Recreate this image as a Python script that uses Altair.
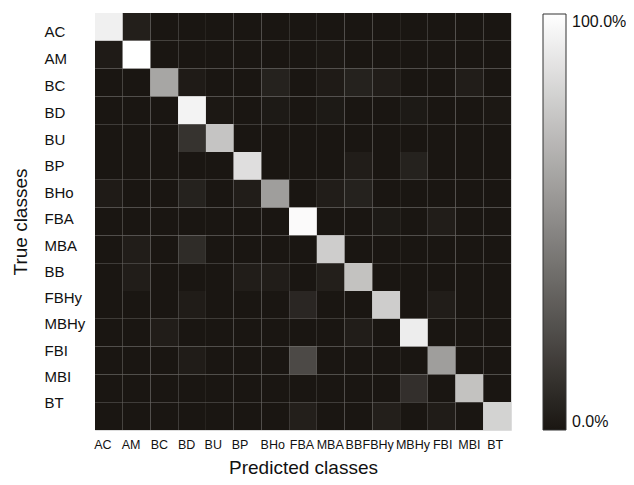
import altair as alt
import pandas as pd

classes = ["AC", "AM", "BC", "BD", "BU", "BP", "BHo", "FBA", "MBA", "BB",
           "FBHy", "MBHy", "FBI", "MBI", "BT"]

# rows = true class, columns = predicted class (fraction of row)
matrix = [
    [0.95, 0.08, 0, 0, 0, 0, 0, 0, 0, 0, 0, 0, 0, 0, 0],
    [0.05, 1.00, 0, 0, 0, 0, 0, 0, 0.03, 0, 0, 0, 0, 0, 0],
    [0, 0, 0.69, 0.05, 0, 0, 0.10, 0, 0.05, 0.10, 0.07, 0, 0, 0.07, 0],
    [0, 0, 0, 0.96, 0.03, 0, 0.04, 0, 0.04, 0, 0, 0.04, 0, 0, 0.03],
    [0, 0, 0, 0.20, 0.80, 0, 0, 0, 0, 0, 0, 0, 0, 0, 0],
    [0, 0, 0, 0, 0, 0.89, 0, 0, 0, 0.07, 0, 0.10, 0, 0, 0],
    [0.05, 0, 0, 0.10, 0, 0.07, 0.66, 0, 0.07, 0.10, 0, 0, 0, 0, 0],
    [0, 0, 0, 0, 0, 0, 0, 0.985, 0, 0, 0.04, 0, 0.07, 0, 0],
    [0, 0.07, 0, 0.16, 0, 0, 0, 0, 0.83, 0, 0, 0, 0, 0, 0],
    [0, 0.07, 0, 0, 0, 0.07, 0.07, 0, 0.08, 0.79, 0, 0, 0, 0, 0],
    [0, 0, 0, 0.06, 0, 0, 0, 0.13, 0, 0, 0.83, 0, 0.07, 0, 0],
    [0, 0, 0.07, 0, 0, 0, 0, 0, 0, 0.07, 0, 0.94, 0, 0, 0],
    [0, 0, 0, 0.06, 0, 0, 0, 0.31, 0, 0, 0, 0, 0.66, 0, 0],
    [0, 0, 0, 0, 0, 0, 0, 0, 0, 0, 0, 0.18, 0, 0.79, 0],
    [0, 0, 0, 0, 0, 0, 0, 0.08, 0, 0, 0.08, 0, 0.06, 0, 0.85],
]

records = []
for i, t in enumerate(classes):
    for j, p in enumerate(classes):
        records.append({"true": t, "pred": p, "value": matrix[i][j]})
df = pd.DataFrame(records)

# label nudges (pixels) to mimic the hand-placed tick labels of the original
x_nudge = [-6, -5.5, -5, -5.5, -6.5, -7.5, -2.5, -1, -0.5, -4.5, -8, -1, 1, 0, -2]
y_nudge = [5, 4, 3.4, 2.6, 1.8, 0, -0.8, -2.6, -3.4, -5.2, -7, -8.8, -9.6, -11.4, -13]


def cond_offset(nudges):
    return {
        "condition": [
            {"test": f"datum.value === '{c}'", "value": n}
            for c, n in zip(classes, nudges)
        ],
        "value": 0,
    }


chart = alt.Chart(df).mark_rect().encode(
    x=alt.X("pred:N", sort=classes, title="Predicted classes",
            axis=alt.Axis(labelAngle=0, labelFont="Liberation Sans", grid=False,
                          labelFontSize=12.5, labelPadding=8, ticks=False, tickSize=0,
                          domain=False, labelOverlap=False, labelColor="#111",
                          labelOffset=cond_offset(x_nudge),
                          titleFont="Liberation Sans", titleFontSize=19,
                          titleFontWeight="normal", titleColor="#111", titlePadding=8)),
    y=alt.Y("true:N", sort=classes, title="True classes",
            axis=alt.Axis(labelAlign="left", labelPadding=51, ticks=False, tickSize=0,
                          domain=False, labelOverlap=False, labelColor="#111", grid=False,
                          labelFont="Liberation Sans", labelFontSize=15,
                          labelOffset=cond_offset(y_nudge),
                          titleFont="Liberation Sans", titleFontSize=19,
                          titleFontWeight="normal", titleColor="#111", titlePadding=14)),
    color=alt.Color("value:Q",
                    scale=alt.Scale(type="pow", exponent=1.3, domain=[0, 1],
                                    range=["#1a1612", "#ffffff"], interpolate="rgb"),
                    legend=alt.Legend(orient="none", legendX=448, legendY=1,
                                      direction="vertical", gradientLength=416,
                                      gradientThickness=23, format=".1%", values=[0, 1],
                                      title=None, labelFont="Liberation Sans",
                                      labelFontSize=16, labelColor="#111", labelOffset=6,
                                      gradientStrokeColor="#333", gradientStrokeWidth=1)),
).properties(
    width=416, height=417, autosize="none",
    padding={"left": 87, "top": 5, "right": 115, "bottom": 47},
).configure_view(stroke="#999", strokeWidth=1, fill="#1a1612").configure(background="white")

chart.save("out.html", embed_options={"renderer": "svg", "actions": False})
